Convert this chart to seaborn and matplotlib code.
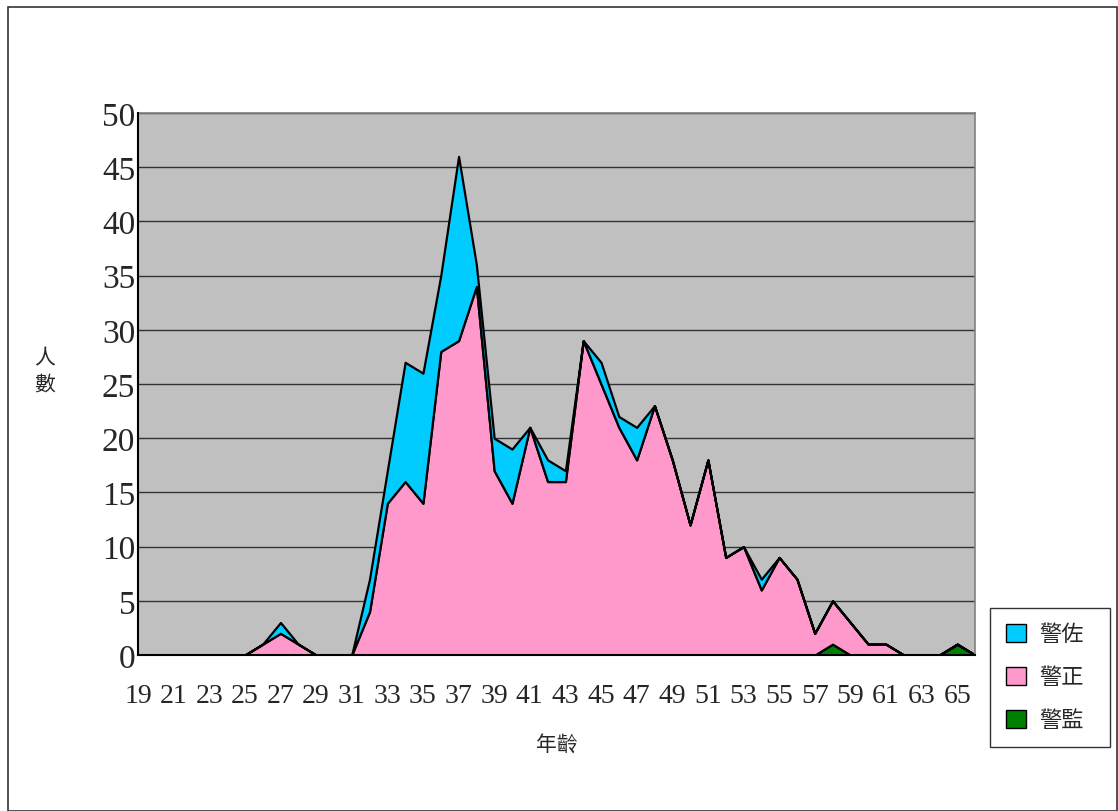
import matplotlib
matplotlib.use("Agg")
import matplotlib.pyplot as plt
import seaborn as sns
from matplotlib.patches import Patch, Rectangle

# ages 19..66, one value per age
ages = list(range(19, 67))
jingjian = [0, 0, 0, 0, 0, 0, 0, 0, 0, 0,
            0, 0, 0, 0, 0, 0, 0, 0, 0, 0,
            0, 0, 0, 0, 0, 0, 0, 0, 0, 0,
            0, 0, 0, 0, 0, 0, 0, 0, 0, 1,
            0, 0, 0, 0, 0, 0, 1, 0]          # 警監
jingzheng = [0, 0, 0, 0, 0, 0, 0, 1, 2, 1,
             0, 0, 0, 4, 14, 16, 14, 28, 29, 34,
             17, 14, 21, 16, 16, 29, 25, 21, 18, 23,
             18, 12, 18, 9, 10, 6, 9, 7, 2, 4,
             3, 1, 1, 0, 0, 0, 0, 0]         # 警正
jingzuo = [0, 0, 0, 0, 0, 0, 0, 0, 1, 0,
           0, 0, 0, 3, 3, 11, 12, 7, 17, 2,
           3, 5, 0, 2, 1, 0, 2, 1, 3, 0,
           0, 0, 0, 0, 0, 1, 0, 0, 0, 0,
           0, 0, 0, 0, 0, 0, 0, 0]           # 警佐
series_names = ['警監', '警正', '警佐']
series_colors = ['#008000', '#FF99CC', '#00CCFF']
y_ticks = list(range(0, 51, 5))

sns.set_style("white")
plt.rcParams['font.family'] = ['Liberation Serif', 'Noto Sans CJK TC', 'DejaVu Sans']

fig = plt.figure(figsize=(11.18, 8.12), dpi=100)
ax = fig.add_axes([138 / 1118, 1 - 656 / 812, (975 - 138) / 1118, (656 - 114) / 812])
ax.set_facecolor('#C0C0C0')

# gridlines under the areas, ticks above them
for v in y_ticks[1:]:
    ax.axhline(v, color='#333333', linewidth=1, zorder=1)

ax.stackplot(ages, jingjian, jingzheng, jingzuo, colors=series_colors,
             edgecolor='black', linewidth=1.6, zorder=2)

ax.set_xlim(ages[0], ages[-1])
ax.set_ylim(0, 50)
ax.set_yticks(y_ticks)
ax.set_yticklabels([str(v) for v in y_ticks], fontsize=24)
ax.set_xticks(ages)
ax.set_xticklabels([str(a) if a % 2 == 1 else '' for a in ages], fontsize=20)
ax.tick_params(axis='x', direction='in', length=7, width=1.2, color='#222222', pad=20)
ax.tick_params(axis='y', direction='in', length=8, width=1.2, color='#222222', pad=2)
ax.grid(False)
ax.set_axisbelow(False)

for side in ['left', 'bottom']:
    ax.spines[side].set_color('black')
    ax.spines[side].set_linewidth(1.5)
    ax.spines[side].set_zorder(5)
for side in ['top', 'right']:
    ax.spines[side].set_color('#808080')
    ax.spines[side].set_linewidth(1.2)

ax.set_xlabel('年齡', fontsize=15, labelpad=20)
ax.set_ylabel('')
fig.text(45 / 1118, 1 - 373 / 812, '人\n數', fontsize=15, ha='center', va='center',
         linespacing=1.5)

handles = [Patch(facecolor=series_colors[i], edgecolor='black', label=series_names[i])
           for i in [2, 1, 0]]
leg = fig.legend(handles=handles, loc='lower left',
                 bbox_to_anchor=(990 / 1118, 1 - 748 / 812, 120 / 1118, 158 / 812),
                 mode='expand', fontsize=16, frameon=True, fancybox=False,
                 handlelength=0.9, handleheight=0.9, labelspacing=0.95,
                 borderpad=0.7, handletextpad=0.6, borderaxespad=0)
leg.get_frame().set_edgecolor('black')
leg.get_frame().set_linewidth(1)

fig.add_artist(Rectangle((8 / 1118, 0), 1 - 8 / 1118 - 0.0005, 1 - 8 / 812,
                         transform=fig.transFigure, fill=False,
                         edgecolor='#333333', linewidth=1.2))

fig.savefig('out.png', dpi=100)
